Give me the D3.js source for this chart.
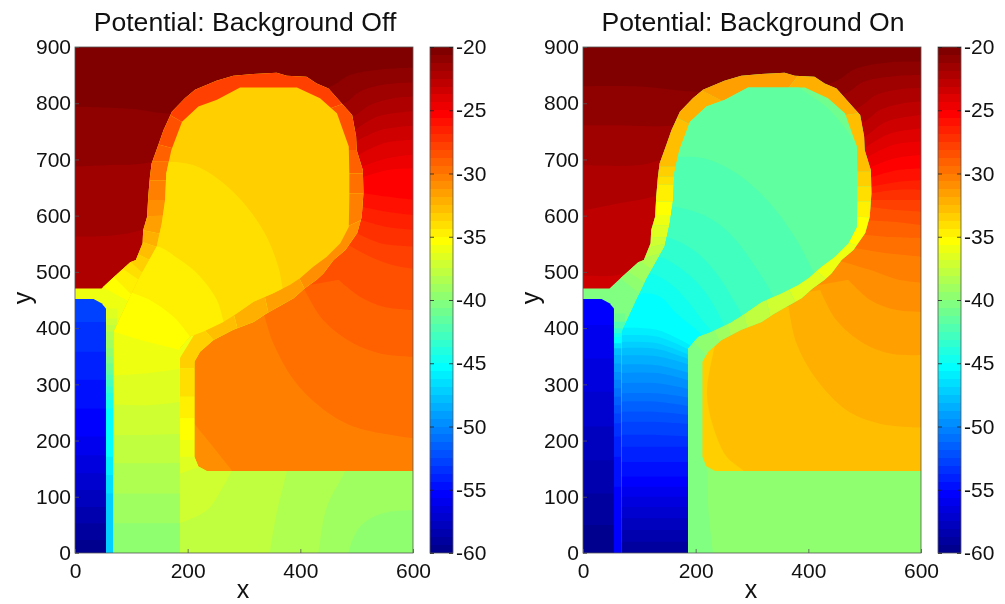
<!DOCTYPE html>
<html><head><meta charset="utf-8">
<style>
html,body{margin:0;padding:0;background:#fff;}
svg{display:block;filter:blur(0.35px);}
text{font-family:"Liberation Sans",Arial,sans-serif;fill:#111;}
</style>
<script src="https://cdn.jsdelivr.net/npm/d3@7"></script>
</head><body><div id="chart"></div>
<script>
// ---------- axis content ----------
const xTicks = [0,200,400,600];
const yTicks = [0,100,200,300,400,500,600,700,800,900];
const barTicks = [-20,-25,-30,-35,-40,-45,-50,-55,-60];
const titles = ["Potential: Background Off","Potential: Background On"];

// ---------- device regions (x, y in axis units) ----------
const shellOutline = [[0,470.6],[47,470.6],[68,490],[98,517],[108,521],[120,551],[121,574],[128,598],[130,634],[133,669],[136,693],[148,726],[157,752],[172,785],[195,809],[213,824],[251,840],[281,849],[316,852],[358,854],[376,849],[411,847],[429,835],[450,826],[476,797],[492,779],[499,741],[500,717],[511,681],[512,640],[509,598],[501,569],[480,539],[459,521],[441,497],[429,486],[408,471],[388,453],[340,426],[317,411],[281,397],[246,379],[222,358],[212,340],[212,171],[219,154],[234,146],[600,146],[600,0],[0,0]];
const bodyOutline = [[69,0],[69,394],[95,450],[113,488],[145,545],[154,586],[160,628],[162,675],[171,717],[190,767],[219,794],[252,806],[293,828],[394,828],[435,809],[465,782],[486,723],[487,675],[487,634],[486,580],[471,551],[447,527],[423,509],[400,489],[382,477],[352,462],[317,447],[287,426],[263,411],[228,394],[204,385],[186,364],[186,0]];
const wellOutline = [[0,452],[33,452],[47,444],[55,435],[55,0],[0,0]];

// ---------- closing paths for contour fills ----------
const closeUp = [[610,910],[-10,910],[-10,400]];
const closeDown = [[610,-10],[-10,-10],[-10,900]];

// ---------- Background Off: outer gate ----------
const offGateBase = -30.9;
const offGateCorner = [-30.3,[[205,240],[212,230],[240,195],[278,147],[285,138]],[[610,138],[610,910],[100,910],[100,400]]];
const offGate = [
 [-29.7,[[336,423],[352,373],[388,308],[435,260],[494,225],[601,204]]],
 [-29.1,[[408,468],[441,414],[494,373],[542,355],[601,349]]],
 [-28.4,[[468,486],[506,456],[548,438],[601,432]]],
 [-27.8,[[480,551],[524,527],[565,512],[601,506]]],
 [-27.2,[[500,569],[542,551],[601,545]]],
 [-26.6,[[509,592],[554,580],[601,575]]],
 [-25.9,[[509,616],[554,607],[601,601]]],
 [-25.3,[[512,640],[554,634],[601,628]]],
 [-24.7,[[512,669],[554,681],[601,684]]],
 [-24.1,[[509,687],[554,702],[601,709]]],
 [-23.4,[[503,708],[548,729],[601,735]]],
 [-22.8,[[499,732],[542,752],[601,760]]],
 [-22.2,[[497,752],[536,776],[601,786]]],
 [-21.6,[[-10,563],[0,563],[120,575],[492,775],[524,797],[565,809],[601,812]]],
 [-20.9,[[-10,687],[60,690],[135,695],[476,799],[506,821],[554,834],[601,837]]],
 [-20.3,[[-10,794],[100,790],[175,782],[450,828],[488,850],[542,860],[601,863]]]
];

// ---------- Background Off: shell ----------
const offShellBase = -35.9;
const offRingCross = [[[40,478],[100,445]],[[55,505],[105,455]],[[78,510],[122,480]],[[90,525],[125,493]],[[95,540],[145,515]],[[105,558],[155,541]],[[108,577],[160,566]],[[113,599],[165,600]],[[115,628],[170,628]],[[118,663],[172,663]],[[122,696],[175,696]],[[135,730],[180,718]],[[0,875],[205,758]],[[700,880],[440,786]],[[525,717],[465,717]],[[525,675],[465,675]],[[525,640],[465,640]],[[525,600],[460,570]],[[420,445],[390,505]],[[346,415],[335,465]],[[292,385],[278,440]],[[252,372],[222,405]],[[225,328],[175,328]],[[225,278],[175,278]],[[225,239.5],[175,239.5]],[[225,201],[175,201]],[[225,171],[175,171]],[[235,158],[175,138]]];
const offRingValues = [-35.3,-34.7,-34.1,-33.4,-32.8,-32.2,-31.6,-30.9,-30.3,-29.7,-29.1,-28.4,-27.8,-28.4,-29.1,-29.7,-30.3,-30.9,-31.6,-32.2,-32.8,-33.4,-34.1,-34.7,-35.3,-35.9,-36.6];
const offSliverEdges = [-10,106,138.7,171,257,272,284,296,308,317,325,337,349,364,379,394,405.5,417,435];
const offSliverValues = [-47.2,-46.6,-45.9,-45.3,-44.7,-44.1,-43.4,-42.8,-42.2,-41.6,-40.9,-40.3,-39.7,-39.1,-38.4,-37.8,-37.2,-36.6];
const offBlock = [
 [-37.2,[[175,138],[235,158]],[[610,158],[610,-10],[175,-10]]],
 [-37.8,[[186,53],[234,76],[263,118],[278,146]],[[285,160],[610,160],[610,-10],[180,-10]]],
 [-38.4,[[345,-10],[346,0],[358,71],[376,146],[378,160]],[[610,160],[610,-10]]],
 [-39.1,[[430,-10],[432,0],[447,82],[480,146],[485,160]],[[610,160],[610,-10]]],
 [-39.7,[[483,-10],[485,0],[506,47],[548,71],[601,76]],[[610,-10]]]
];

// ---------- Background Off: body and well ----------
const offBodyBase = -33.4;
const offBody = [
 [-34.1,[[150,694],[162,696],[210,690],[257,663],[305,616],[340,563],[361,509],[367,480],[370,460]]],
 [-34.7,[[135,538],[145,545],[187,521],[222,492],[252,450],[263,414],[268,395]]],
 [-35.3,[[80,480],[92,468],[133,450],[175,420],[204,385],[215,370]]],
 [-35.9,[[60,398],[69,394],[127,376],[186,361],[195,358]]],
 [-36.6,[[60,315],[130,320],[195,329]]],
 [-37.2,[[60,265],[130,263],[195,270]]],
 [-37.8,[[60,210],[130,210],[195,212]]],
 [-38.4,[[60,159.5],[130,159.5],[195,160]]],
 [-39.1,[[60,106],[130,106],[195,106]]],
 [-39.7,[[60,53],[130,53],[195,53]]]
];
const offWellEdges = [452,411,358,308,257,207,174,142,112,82,53,23];
const offWellValues = [-52.8,-53.4,-54.1,-54.7,-55.3,-55.9,-56.6,-57.2,-57.8,-58.4,-59.1,-59.7];

// ---------- Background On: outer gate ----------
const onGateBase = -33.4;
const onGateCorner = [-32.8,[[290,138],[285,146],[255,171],[231,225],[220,284],[231,355],[235,370]],[[235,910],[610,910],[610,138]]];
const onGate = [
 [-32.2,[[365,438],[379,373],[415,308],[468,254],[527,230],[601,223]]],
 [-31.6,[[421,468],[450,414],[498,373],[545,355],[601,352]]],
 [-30.9,[[471,486],[510,450],[557,432],[601,429]]],
 [-30.3,[[450,521],[520,500],[560,486],[601,481]]],
 [-29.7,[[468,545],[539,533],[601,527]]],
 [-29.1,[[486,568],[545,562],[601,560]]],
 [-28.4,[[495,592],[551,589],[601,583]]],
 [-27.8,[[507,616],[557,610],[601,607]]],
 [-27.2,[[510,628],[557,628],[601,628]]],
 [-26.6,[[513,640],[557,646],[601,646]]],
 [-25.9,[[513,652],[557,660],[601,663]]],
 [-25.3,[[513,669],[557,681],[601,684]]],
 [-24.7,[[513,687],[554,702],[601,708]]],
 [-24.1,[[507,705],[551,726],[601,732]]],
 [-23.4,[[504,723],[545,746],[601,755]]],
 [-22.8,[[-10,494],[60,494],[100,510],[501,741],[539,767],[601,779]]],
 [-22.2,[[-10,607],[65,622],[130,635],[495,764],[527,788],[569,800],[601,803]]],
 [-21.6,[[-10,690],[100,690],[140,700],[486,791],[521,815],[563,825],[601,827]]],
 [-20.9,[[-10,761],[60,761],[165,761],[462,815],[498,838],[551,848],[601,850]]],
 [-20.3,[[-10,830],[95,830],[214,820],[439,835],[486,862],[545,873],[601,874]]]
];

// ---------- Background On: shell ----------
const onShellBase = -40.3;
const onRingCross = [[[55,497],[100,462]],[[72,505],[122,473]],[[92,525],[140,492]],[[90,520],[145,535]],[[100,540],[155,552]],[[105,563],[160,560]],[[105,583],[165,583]],[[110,601],[170,601]],[[110,625],[170,625]],[[115,655],[175,655]],[[115,669],[180,669]],[[120,687],[180,687]],[[155,780],[205,755]],[[100,879],[265,795]],[[400,872],[355,815]],[[510,785],[450,777]],[[525,678],[470,678]],[[525,652],[470,652]],[[525,625],[470,625]],[[525,595],[470,600]],[[510,540],[450,558]],[[445,475],[400,515]],[[380,440],[355,490]],[[336,405],[322,465]],[[295,385],[282,440]],[[265,375],[252,425]],[[248,365],[226,410]],[[230,340],[190,382]]];
const onRingValues = [-39.7,-39.1,-38.4,-37.8,-37.2,-36.6,-35.9,-35.3,-34.7,-34.1,-33.4,-32.8,-32.2,-31.6,-32.2,-32.8,-33.4,-34.1,-34.7,-35.3,-35.9,-36.6,-37.2,-37.8,-38.4,-39.1,-39.7];
const onSliverEdges = [-10,118,171,207,231,248,263,278,293,308,322,337,352,364,373,383.6,390.7,399.6,411.5,426];
const onSliverValues = [-55.3,-54.7,-54.1,-53.4,-52.8,-52.2,-51.6,-50.9,-50.3,-49.7,-49.1,-48.4,-47.8,-46.6,-45.3,-44.7,-43.4,-42.2,-40.9];
const onBlock = [
 [-39.7,[[218,160],[220,148],[223,70],[232,-10]],[[610,-10],[610,160]]]
];

// ---------- Background On: body and well ----------
const onBodyBase = -40.9;
const onBody = [
 [-41.6,[[370,840],[385,827],[438,788],[486,726],[495,710]]],
 [-42.2,[[150,700],[166,704],[214,702],[273,675],[332,622],[379,557],[406,506],[420,480]]],
 [-42.8,[[147,612],[157,616],[214,601],[261,568],[302,515],[338,456],[345,435]]],
 [-43.4,[[133,558],[143,563],[196,539],[237,497],[267,450],[282,423],[288,405]]],
 [-44.1,[[124,522],[134,527],[178,503],[214,468],[237,432],[249,408],[255,395]]],
 [-44.7,[[109,492],[119,497],[154,480],[184,450],[214,411],[226,397],[232,385]]],
 [-45.3,[[97,458],[107,462],[137,456],[166,426],[211,388],[220,375]]],
 [-45.9,[[60,400],[131,397],[195,367]]],
 [-46.6,[[60,387],[131,385],[195,358]]],
 [-47.2,[[60,375],[131,373],[195,349]]],
 [-47.8,[[60,364],[131,363],[195,342]]],
 [-48.4,[[60,351],[131,350],[195,333]]],
 [-49.1,[[60,335],[131,334],[195,318]]],
 [-49.7,[[60,320],[131,320],[195,305]]],
 [-50.3,[[60,302],[131,302],[195,290]]],
 [-50.9,[[60,284],[131,284],[195,275]]],
 [-51.6,[[60,269],[131,269],[195,260]]],
 [-52.2,[[60,251],[131,251],[195,245]]],
 [-52.8,[[60,233],[131,233],[195,229]]],
 [-53.4,[[60,210],[131,210],[195,207]]],
 [-54.1,[[60,189],[131,189],[195,189]]],
 [-54.7,[[60,162],[131,162],[195,162]]],
 [-55.3,[[60,136],[131,136],[195,136]]],
 [-55.9,[[60,118],[131,118],[195,118]]],
 [-56.6,[[60,100],[131,100],[195,100]]],
 [-57.2,[[60,82],[131,82],[195,82]]],
 [-57.8,[[60,62],[131,62],[195,62]]],
 [-58.4,[[60,41],[131,41],[195,41]]],
 [-59.1,[[60,20],[131,20],[195,20]]]
];
const onWellEdges = [452,405.5,346,287,225,165,106,50];
const onWellValues = [-55.3,-55.9,-56.6,-57.2,-57.8,-58.4,-59.1,-59.7];

// ---------- MATLAB jet(64) colormap ----------
const ramp = t => Math.round(255*Math.max(0,Math.min(1,t)));
const jet = d3.range(64).map(i=>{
  const p = (i+1)/64*4;
  return d3.rgb(ramp(Math.min(p-1.5,4.5-p)),ramp(Math.min(p-0.5,3.5-p)),ramp(Math.min(p+0.5,2.5-p))).formatHex();
});
const color = d3.scaleQuantize().domain([-60,-20]).range(jet);

const panels = [
 {title:titles[0],offset:0,gateBase:offGateBase,corner:offGateCorner,gate:offGate,shellBase:offShellBase,
  cross:offRingCross,ring:offRingValues,sliverE:offSliverEdges,sliverV:offSliverValues,block:offBlock,
  bodyBase:offBodyBase,body:offBody,wellE:offWellEdges,wellV:offWellValues},
 {title:titles[1],offset:508,gateBase:onGateBase,corner:onGateCorner,gate:onGate,shellBase:onShellBase,
  cross:onRingCross,ring:onRingValues,sliverE:onSliverEdges,sliverV:onSliverValues,block:onBlock,
  bodyBase:onBodyBase,body:onBody,wellE:onWellEdges,wellV:onWellValues}
];

const W=1005,H=604;
const svg = d3.select("#chart").append("svg").attr("width",W).attr("height",H);
const defs = svg.append("defs");
const x = d3.scaleLinear().domain([0,600]).range([75,413]);
const y = d3.scaleLinear().domain([0,900]).range([553,47]);
const cbar = d3.scaleLinear().domain([-60,-20]).range([553,47]);

const poly = d3.line().x(d=>x(d[0])).y(d=>y(d[1]));
const curved = d3.line().x(d=>x(d[0])).y(d=>y(d[1])).curve(d3.curveCatmullRom.alpha(0.5));
const closed = pts => poly(pts)+"Z";
const contourFill = (line,close) => curved(line)+close.map(c=>`L${x(c[0])},${y(c[1])}`).join("")+"Z";

function clip(id,pathD){ defs.append("clipPath").attr("id",id).append("path").attr("d",pathD); }
clip("plotClip",`M75,47H413V553H75Z`);
clip("shellClip",closed(shellOutline));
clip("bodyClip",closed(bodyOutline));
clip("wellClip",closed(wellOutline));
const whole = [[-10,-10],[610,-10],[610,910],[-10,910]];

function layer(parent,id){ return parent.append("g").attr("clip-path",`url(#${id})`); }
function fill(g,d,v){ g.append("path").attr("d",d).attr("fill",color(v)); }

panels.forEach(p=>{
  const g = svg.append("g").attr("transform",`translate(${p.offset},0)`);
  const plot = layer(g,"plotClip");

  // gate
  const gate = plot.append("g");
  fill(gate,closed(whole),p.gateBase);
  fill(gate,contourFill(p.corner[1],p.corner[2]),p.corner[0]);
  p.gate.forEach(b=>fill(gate,contourFill(b[1],closeUp),b[0]));

  // shell: bands overlap downward so no seams show between neighbours
  const shell = layer(plot,"shellClip");
  fill(shell,closed(whole),p.shellBase);
  d3.range(p.sliverV.length-1,-1,-1).forEach(i=>{
    fill(shell,closed([[50,-10],[75,-10],[75,p.sliverE[i+1]],[50,p.sliverE[i+1]]]),p.sliverV[i]);
  });
  p.ring.forEach((v,i)=>{
    const a=p.cross[i], b=p.cross[i+1];
    fill(shell,closed([a[0],a[1],b[1],b[0]]),v);
  });
  p.block.forEach(b=>fill(shell,contourFill(b[1],b[2]),b[0]));

  // semiconductor body
  const body = layer(plot,"bodyClip");
  fill(body,closed(whole),p.bodyBase);
  p.body.forEach(b=>fill(body,contourFill(b[1],closeDown),b[0]));

  // well: each band fills everything below its top edge
  const well = layer(plot,"wellClip");
  p.wellV.forEach((v,i)=>{
    const top=p.wellE[i];
    fill(well,closed([[-10,top],[70,top],[70,-10],[-10,-10]]),v);
  });

  // frame and axes
  const axisColor="#555";
  g.append("rect").attr("x",75).attr("y",47).attr("width",338).attr("height",506)
    .attr("fill","none").attr("stroke",axisColor).attr("stroke-width",0.8);
  const ax = g.append("g").attr("transform","translate(0,553)")
    .call(d3.axisBottom(x).tickValues(xTicks).tickFormat(d3.format("d")).tickSize(-4).tickPadding(10));
  const ay = g.append("g").attr("transform","translate(75,0)")
    .call(d3.axisLeft(y).tickValues(yTicks).tickFormat(d3.format("d")).tickSize(-4).tickPadding(4));
  [ax,ay].forEach(a=>{
    a.select(".domain").remove();
    a.selectAll("line").attr("stroke",axisColor).attr("stroke-width",0.8);
    a.selectAll("text").attr("font-size",21).attr("fill","#111");
  });

  // title and labels
  g.append("text").attr("x",245).attr("y",31).attr("text-anchor","middle").attr("font-size",26.6).text(p.title);
  g.append("text").attr("x",243).attr("y",598).attr("text-anchor","middle").attr("font-size",25).text("x");
  g.append("text").attr("transform","translate(31,298) rotate(-90)").attr("text-anchor","middle").attr("font-size",25).text("y");

  // colorbar
  const bar = g.append("g");
  bar.selectAll("rect").data(jet).join("rect")
    .attr("x",430).attr("width",23)
    .attr("y",(c,i)=>cbar(-60+(i+1)*0.625))
    .attr("height",(c,i)=>cbar(-60+i*0.625)-cbar(-60+(i+1)*0.625))
    .attr("shape-rendering","crispEdges")
    .attr("fill",c=>c);
  bar.append("rect").attr("x",430).attr("y",47).attr("width",23).attr("height",506)
    .attr("fill","none").attr("stroke",axisColor).attr("stroke-width",0.8);
  const ab = bar.append("g").attr("transform","translate(453,0)")
    .call(d3.axisRight(cbar).tickValues(barTicks).tickFormat(d=>String(d)).tickSize(-4).tickPadding(3));
  ab.select(".domain").remove();
  ab.selectAll("line").attr("stroke","#222").attr("stroke-width",0.8);
  ab.selectAll("text").attr("font-size",21).attr("fill","#111");
  ab.selectAll(".tick").append("line").attr("x1",-23).attr("x2",-19).attr("stroke","#222").attr("stroke-width",0.8);
});
</script></body></html>
